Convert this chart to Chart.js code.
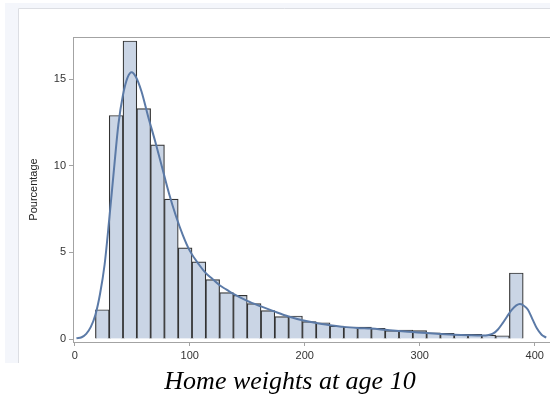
<!DOCTYPE html>
<html>
<head>
<meta charset="utf-8">
<script src="https://cdn.jsdelivr.net/npm/chart.js@4.4.1/dist/chart.umd.min.js"></script>
<style>
  html, body { margin: 0; padding: 0; background: #ffffff; width: 550px; height: 396px; overflow: hidden; }
  #c { position: absolute; left: 0; top: 0; }
</style>
</head>
<body>
<canvas id="c" width="550" height="396"></canvas>
<script>
// ---- data ----
const binStart = 18;           // left edge of first bin
const binWidth = 12;           // bin width (units of x)
const binPercent = [1.69, 12.9, 17.2, 13.3, 11.2, 8.07, 5.26, 4.45, 3.43, 2.68, 2.52, 2.04, 1.64, 1.29, 1.33,
                    1.00, 0.94, 0.75, 0.69, 0.69, 0.62, 0.48, 0.52, 0.48, 0.35, 0.33, 0.27, 0.27, 0.23, 0.19, 3.81];
const densityX = [1.5, 6, 10, 14, 18, 22, 26, 30, 34, 38, 42, 46, 49.5, 53, 58, 64, 70, 76, 82, 88, 94, 100, 108, 114,
                  120, 126, 132, 138, 150, 162, 174, 186, 198, 210, 222, 234, 246, 258, 270, 282, 294, 306, 318, 330,
                  342, 354, 360, 364, 368, 372, 376, 380, 384, 387, 390, 394, 398, 402, 406, 410];
const densityY = [0.04, 0.1, 0.3, 0.7, 1.4, 2.6, 4.3, 6.9, 9.7, 12.4, 14.1, 15.1, 15.4, 15.15, 14.3, 12.8, 11.4, 9.9, 8.4, 7.1,
                  6.0, 5.1, 4.3, 3.8, 3.45, 3.1, 2.85, 2.6, 2.2, 1.88, 1.58, 1.3, 1.08, 0.92, 0.8, 0.7, 0.64, 0.6, 0.53,
                  0.46, 0.4, 0.34, 0.29, 0.25, 0.22, 0.2, 0.23, 0.32, 0.55, 0.9, 1.3, 1.68, 1.94, 2.02, 1.95, 1.7, 1.15,
                  0.6, 0.25, 0.08];
const xTicks = [0, 100, 200, 300, 400];
const yTicks = [0, 5, 10, 15];
const yTitle = 'Pourcentage';
const chartTitle = 'Home weights at age 10';

// ---- build datasets ----
const barData = binPercent.map((v, i) => ({ x: binStart + binWidth * (i + 0.5), y: v }));
const lineData = densityX.map((x, i) => ({ x: x, y: densityY[i] }));

const backdrop = {
  id: 'backdrop',
  beforeDraw(chart) {
    const { ctx } = chart;
    ctx.save();
    ctx.fillStyle = '#ffffff';
    ctx.fillRect(0, 0, chart.width, chart.height);
    ctx.fillStyle = '#f4f6fb';
    ctx.fillRect(5, 3, chart.width - 5, 360);
    ctx.fillStyle = '#ffffff';
    ctx.fillRect(18, 8, chart.width - 18, 355);
    ctx.strokeStyle = '#dcdee3';
    ctx.lineWidth = 1;
    ctx.beginPath();
    ctx.moveTo(18.5, 363);
    ctx.lineTo(18.5, 8.5);
    ctx.lineTo(chart.width, 8.5);
    ctx.stroke();
    ctx.restore();
  }
};

const frameAndTitle = {
  id: 'frameAndTitle',
  afterDraw(chart) {
    const { ctx, chartArea } = chart;
    ctx.save();
    ctx.strokeStyle = '#a3a3a3';
    ctx.lineWidth = 1;
    ctx.beginPath();
    ctx.moveTo(chartArea.left, chartArea.top + 0.5);
    ctx.lineTo(chartArea.right, chartArea.top + 0.5);
    ctx.stroke();
    ctx.font = 'italic 26px "Liberation Serif", "Times New Roman", serif';
    ctx.fillStyle = '#000000';
    ctx.textAlign = 'center';
    ctx.textBaseline = 'alphabetic';
    ctx.fillText(chartTitle, 290, 389);
    ctx.restore();
  }
};

const tickFont = { family: '"Liberation Sans", Arial, sans-serif', size: 11 };

new Chart(document.getElementById('c'), {
  type: 'bar',
  data: {
    datasets: [
      { type: 'line', data: lineData, borderColor: '#5b7aa7', borderWidth: 2, pointRadius: 0,
        cubicInterpolationMode: 'monotone', fill: false, order: 0 },
      { type: 'bar', data: barData, backgroundColor: '#cad5e5', borderColor: '#333333', borderWidth: 1.2,
        barPercentage: 1, categoryPercentage: 1, grouped: false, order: 1 }
    ]
  },
  options: {
    responsive: false,
    devicePixelRatio: 1,
    animation: false,
    layout: { padding: { top: 37, left: 0, right: 0, bottom: 0 } },
    plugins: { legend: { display: false }, title: { display: false }, tooltip: { enabled: false } },
    scales: {
      x: {
        type: 'linear', min: -1.5, max: 413.3, offset: false,
        afterBuildTicks: s => { s.ticks = xTicks.map(v => ({ value: v })); },
        afterFit: s => { s.height = 54; },
        grid: { offset: false, drawOnChartArea: false, drawTicks: true, tickLength: 4, color: '#a3a3a3' },
        border: { display: true, color: '#a3a3a3', width: 1 },
        ticks: { font: tickFont, color: '#333333', padding: 3, maxRotation: 0, autoSkip: false }
      },
      y: {
        type: 'linear', min: -0.173, max: 17.43,
        afterBuildTicks: s => { s.ticks = yTicks.map(v => ({ value: v })); },
        afterFit: s => { s.width = 73; },
        grid: { drawOnChartArea: false, drawTicks: true, tickLength: 4, color: '#a3a3a3' },
        border: { display: true, color: '#a3a3a3', width: 1 },
        ticks: { font: tickFont, color: '#333333', padding: 3 },
        title: { display: true, text: yTitle, font: tickFont, color: '#222222', padding: { top: 27.4, bottom: 0 } }
      }
    }
  },
  plugins: [backdrop, frameAndTitle]
});
</script>
</body>
</html>
